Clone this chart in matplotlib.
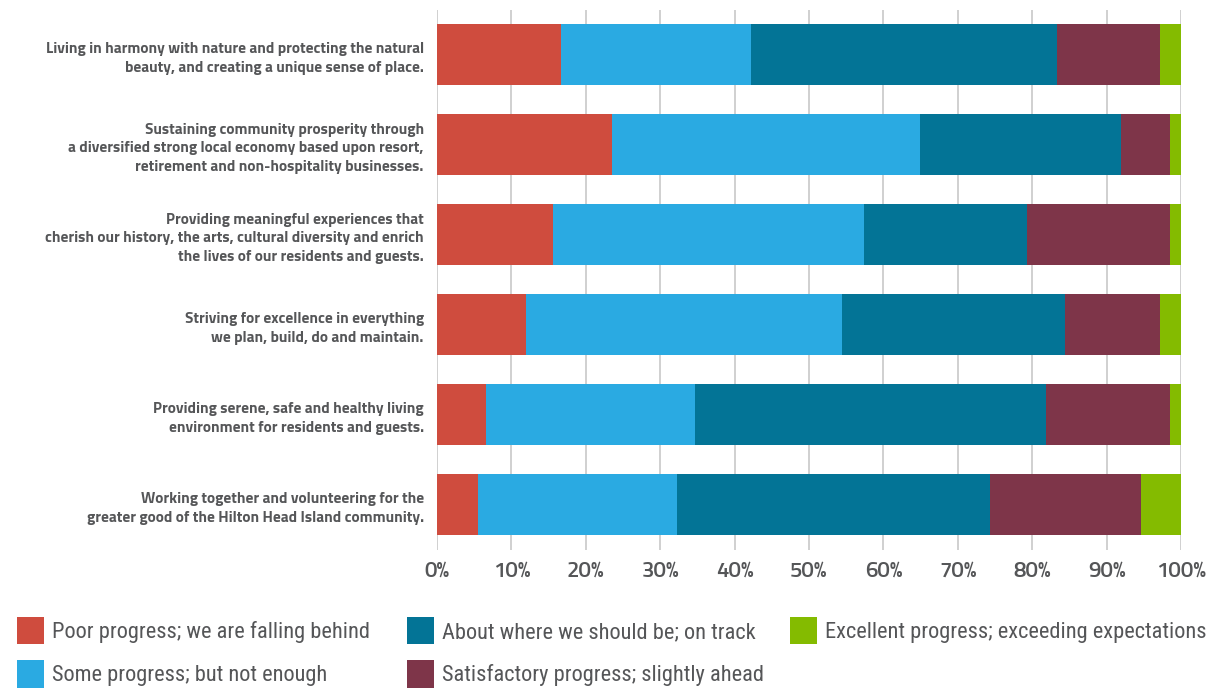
#!/usr/bin/env python3
"""Stacked progress ratings per strategic goal."""

import matplotlib

matplotlib.use("Agg")
import matplotlib.pyplot as plt
import numpy as np

goals = [
    "Living in harmony with nature and protecting the natural\nbeauty, and creating a unique sense of place.",
    "Sustaining community prosperity through\na diversified strong local economy based upon resort,\nretirement and non-hospitality businesses.",
    "Providing meaningful experiences that\ncherish our history, the arts, cultural diversity and enrich\nthe lives of our residents and guests.",
    "Striving for excellence in everything\nwe plan, build, do and maintain.",
    "Providing serene, safe and healthy living\nenvironment for residents and guests.",
    "Working together and volunteering for the\ngreater good of the Hilton Head Island community.",
]

poor = [16.7, 23.5, 15.6, 12.0, 6.6, 5.5]
some = [25.5, 41.4, 41.8, 42.5, 28.1, 26.8]
on_track = [41.1, 27.0, 21.9, 29.9, 47.1, 42.0]
satisfactory = [13.9, 6.6, 19.2, 12.8, 16.7, 20.3]
excellent = [2.8, 1.5, 1.5, 2.8, 1.5, 5.4]

series = [
    ("Poor progress; we are falling behind", poor, "#cf4c3e"),
    ("Some progress; but not enough", some, "#2aaae2"),
    ("About where we should be; on track", on_track, "#037496"),
    ("Satisfactory progress; slightly ahead", satisfactory, "#7e3549"),
    ("Excellent progress; exceeding expectations", excellent, "#84bb00"),
]

ticks = [0, 10, 20, 30, 40, 50, 60, 70, 80, 90, 100]
tick_labels = [f"{t}%" for t in ticks]

TEXT = "#555658"
MAIN = ["Titillium Web", "DejaVu Sans"]
COND = ["Roboto Condensed", "DejaVu Sans"]

fig = plt.figure(figsize=(12.1, 6.9), dpi=100)
ax = fig.add_axes([437 / 1210, 1 - 549.5 / 690, (1181 - 437) / 1210, 540 / 690])

ys = np.arange(len(goals))
left = np.zeros(len(goals))
handles = {}
for name, vals, color in series:
    vals = np.array(vals)
    handles[name] = ax.barh(ys, vals, left=left, height=0.68, color=color, label=name, zorder=3)
    left += vals

ax.set_xlim(0, left.max())
ax.set_ylim(len(goals) - 0.5, -0.5)
ax.set_xticks(ticks)
ax.set_xticklabels(tick_labels, fontsize=16, fontweight="semibold", color=TEXT, family=MAIN)
ax.set_yticks(ys)
ax.set_yticklabels(goals, fontsize=11.1, fontweight="bold", color=TEXT, family=MAIN, linespacing=1.42)
ax.tick_params(axis="both", length=0)
ax.tick_params(axis="y", pad=9.5)
ax.tick_params(axis="x", pad=9)
ax.grid(axis="x", color="#d0d0d0", linewidth=1.4, zorder=0)
for spine in ax.spines.values():
    spine.set_visible(False)

# legend: three fixed-position columns like the report layout
columns = [(0, 1), (2, 3), (4,)]
col_x = [17, 407, 790]
for idx, x in zip(columns, col_x):
    names = [series[i][0] for i in idx]
    fig.legend(
        [handles[n] for n in names],
        names,
        loc="upper left",
        bbox_to_anchor=(x / 1210, 1 - 617 / 690),
        frameon=False,
        prop={"family": COND, "size": 16.1},
        labelcolor=TEXT,
        handlelength=1.2,
        handleheight=1.5,
        handletextpad=0.38,
        labelspacing=0.72,
        borderpad=0,
        borderaxespad=0,
    )

fig.savefig("out.png", dpi=100)
